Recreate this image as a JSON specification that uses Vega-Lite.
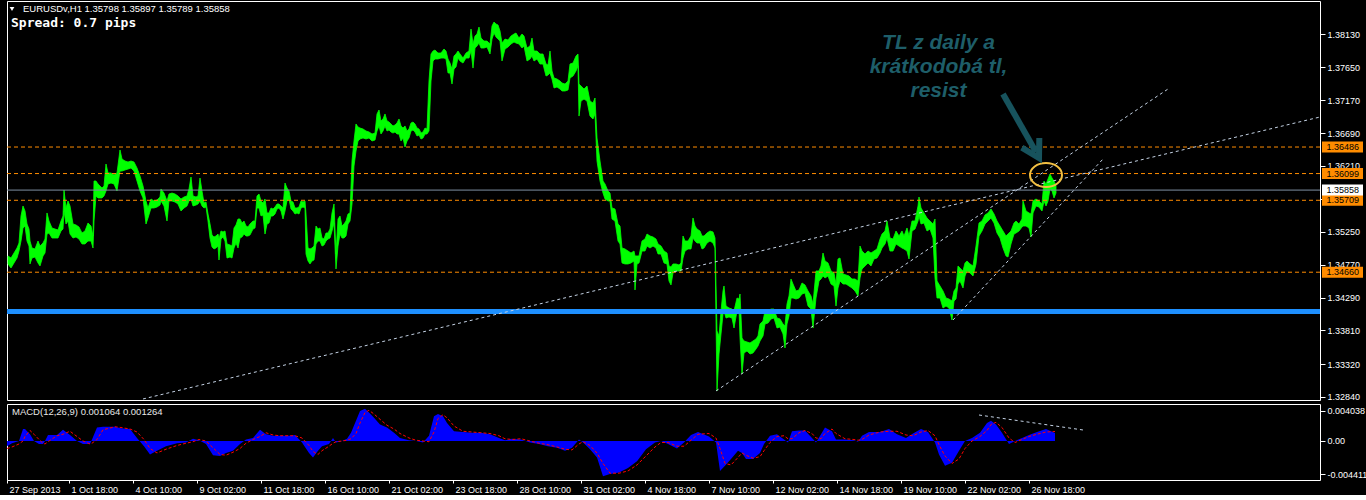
{
"$schema": "https://vega.github.io/schema/vega-lite/v6.json",
"padding": {"left": 4, "top": 0, "right": 0, "bottom": 0},
"autosize": {"type": "pad"},
"background": "#000000",
"spacing": 4,
"bounds": "flush",
"datasets": {
"price": [
{"b":1,"h":1.34897,"l":1.34780},{"b":4,"h":1.34867,"l":1.34722},{"b":7,"h":1.34940,"l":1.34795},{"b":10,"h":1.35013,"l":1.34867},{"b":12,"h":1.35086,"l":1.34969},{"b":14,"h":1.35480,"l":1.35115},{"b":16,"h":1.35626,"l":1.35305},{"b":18,"h":1.35553,"l":1.35334},{"b":20,"h":1.35363,"l":1.35115},{"b":22,"h":1.35290,"l":1.35042},{"b":23,"h":1.35115,"l":1.34780},{"b":25,"h":1.35013,"l":1.34867},{"b":28,"h":1.34999,"l":1.34882},{"b":31,"h":1.35115,"l":1.34795},{"b":33,"h":1.35042,"l":1.34751},{"b":36,"h":1.35086,"l":1.34897},{"b":38,"h":1.35144,"l":1.34940},{"b":40,"h":1.35524,"l":1.35217},{"b":42,"h":1.35407,"l":1.35232},{"b":45,"h":1.35305,"l":1.35159},{"b":48,"h":1.35290,"l":1.35159},{"b":51,"h":1.35276,"l":1.35159},{"b":54,"h":1.35407,"l":1.35261},{"b":56,"h":1.35480,"l":1.35290},{"b":57,"h":1.35859,"l":1.35553},{"b":59,"h":1.35597,"l":1.35363},{"b":61,"h":1.35699,"l":1.35407},{"b":63,"h":1.35626,"l":1.35217},{"b":66,"h":1.35363,"l":1.35159},{"b":69,"h":1.35349,"l":1.35174},{"b":72,"h":1.35319,"l":1.35144},{"b":75,"h":1.35232,"l":1.35072},{"b":78,"h":1.35261,"l":1.35072},{"b":81,"h":1.35378,"l":1.35115},{"b":84,"h":1.35334,"l":1.35115},{"b":86,"h":1.35188,"l":1.35013},{"b":87,"h":1.35990,"l":1.35407},{"b":89,"h":1.35990,"l":1.35772},{"b":91,"h":1.35947,"l":1.35743},{"b":93,"h":1.35918,"l":1.35743},{"b":95,"h":1.35888,"l":1.35743},{"b":97,"h":1.35918,"l":1.35772},{"b":99,"h":1.36238,"l":1.35845},{"b":101,"h":1.36107,"l":1.35947},{"b":104,"h":1.36107,"l":1.35961},{"b":107,"h":1.36078,"l":1.35947},{"b":110,"h":1.36107,"l":1.35845},{"b":113,"h":1.36443,"l":1.36136},{"b":115,"h":1.36311,"l":1.36136},{"b":118,"h":1.36282,"l":1.36151},{"b":121,"h":1.36267,"l":1.36165},{"b":124,"h":1.36282,"l":1.36180},{"b":127,"h":1.36267,"l":1.36136},{"b":130,"h":1.36180,"l":1.35990},{"b":133,"h":1.36063,"l":1.35845},{"b":136,"h":1.35918,"l":1.35743},{"b":139,"h":1.35699,"l":1.35363},{"b":141,"h":1.35597,"l":1.35451},{"b":144,"h":1.35728,"l":1.35597},{"b":147,"h":1.35699,"l":1.35597},{"b":150,"h":1.35713,"l":1.35611},{"b":153,"h":1.35757,"l":1.35640},{"b":154,"h":1.35874,"l":1.35699},{"b":157,"h":1.35815,"l":1.35626},{"b":160,"h":1.35699,"l":1.35407},{"b":162,"h":1.35801,"l":1.35699},{"b":165,"h":1.35815,"l":1.35699},{"b":168,"h":1.35801,"l":1.35684},{"b":171,"h":1.35772,"l":1.35655},{"b":174,"h":1.35728,"l":1.35553},
{"b":177,"h":1.35757,"l":1.35597},{"b":180,"h":1.35772,"l":1.35626},{"b":182,"h":1.35874,"l":1.35699},{"b":184,"h":1.36049,"l":1.35728},{"b":186,"h":1.35772,"l":1.35626},{"b":189,"h":1.35757,"l":1.35640},{"b":191,"h":1.35772,"l":1.35655},{"b":193,"h":1.36034,"l":1.35699},{"b":195,"h":1.35845,"l":1.35626},{"b":197,"h":1.35670,"l":1.35597},{"b":199,"h":1.35684,"l":1.35611},{"b":201,"h":1.35509,"l":1.35407},{"b":203,"h":1.35363,"l":1.35159},{"b":205,"h":1.35203,"l":1.35028},{"b":207,"h":1.35174,"l":1.34999},{"b":209,"h":1.35188,"l":1.35013},{"b":211,"h":1.35217,"l":1.35042},{"b":212,"h":1.35144,"l":1.34838},{"b":214,"h":1.35261,"l":1.35144},{"b":216,"h":1.35247,"l":1.35174},{"b":218,"h":1.35261,"l":1.35115},{"b":220,"h":1.35072,"l":1.34867},{"b":223,"h":1.35057,"l":1.34882},{"b":225,"h":1.35042,"l":1.34867},{"b":227,"h":1.35305,"l":1.35013},{"b":229,"h":1.35349,"l":1.35086},{"b":231,"h":1.35436,"l":1.35013},{"b":233,"h":1.35436,"l":1.35159},{"b":235,"h":1.35378,"l":1.35174},{"b":237,"h":1.35407,"l":1.35217},{"b":239,"h":1.35334,"l":1.35188},{"b":241,"h":1.35319,"l":1.35188},{"b":243,"h":1.35363,"l":1.35203},{"b":246,"h":1.35407,"l":1.35290},{"b":248,"h":1.35407,"l":1.35305},{"b":250,"h":1.35772,"l":1.35597},{"b":252,"h":1.35801,"l":1.35597},{"b":254,"h":1.35699,"l":1.35480},{"b":256,"h":1.35670,"l":1.35495},{"b":258,"h":1.35728,"l":1.35217},{"b":260,"h":1.35524,"l":1.35363},{"b":262,"h":1.35524,"l":1.35378},{"b":264,"h":1.35597,"l":1.35480},{"b":266,"h":1.35582,"l":1.35480},{"b":268,"h":1.35611,"l":1.35509},{"b":270,"h":1.35655,"l":1.35582},{"b":272,"h":1.35655,"l":1.35597},{"b":274,"h":1.35626,"l":1.35553},{"b":276,"h":1.35597,"l":1.35436},{"b":278,"h":1.35961,"l":1.35553},{"b":280,"h":1.35888,"l":1.35699},{"b":282,"h":1.35845,"l":1.35728},{"b":284,"h":1.35699,"l":1.35582},{"b":286,"h":1.35684,"l":1.35553},{"b":288,"h":1.35597,"l":1.35509},{"b":290,"h":1.35597,"l":1.35524},{"b":292,"h":1.35611,"l":1.35509},{"b":294,"h":1.35699,"l":1.35597},{"b":296,"h":1.35684,"l":1.35611},{"b":298,"h":1.35699,"l":1.35597},{"b":299,"h":1.35509,"l":1.34926},{"b":301,"h":1.35013,"l":1.34824},{"b":303,"h":1.34999,"l":1.34780},{"b":305,"h":1.35013,"l":1.34824},{"b":307,"h":1.35042,"l":1.34838},{"b":309,"h":1.35334,"l":1.35072},{"b":311,"h":1.35290,"l":1.35115},{"b":313,"h":1.35305,"l":1.35115},{"b":315,"h":1.35159,"l":1.35042},{"b":317,"h":1.35144,"l":1.35057},{"b":319,"h":1.35232,"l":1.35115},{"b":321,"h":1.35232,"l":1.35144},{"b":323,"h":1.35290,"l":1.35159},{"b":325,"h":1.35524,"l":1.35261},{"b":327,"h":1.35655,"l":1.35378},{"b":329,"h":1.34926,"l":1.34707},{"b":331,"h":1.35436,"l":1.35042},{"b":333,"h":1.35480,"l":1.35217},{"b":335,"h":1.35334,"l":1.35159},{"b":337,"h":1.35363,"l":1.35159},{"b":339,"h":1.35407,"l":1.35188},{"b":341,"h":1.35509,"l":1.35363},{"b":343,"h":1.35524,"l":1.35407},{"b":345,"h":1.36282,"l":1.35655},{"b":347,"h":1.36574,"l":1.36209},{"b":349,"h":1.36822,"l":1.36428},{"b":351,"h":1.36778,"l":1.36574},
{"b":353,"h":1.36763,"l":1.36603},{"b":356,"h":1.36749,"l":1.36618},{"b":359,"h":1.36720,"l":1.36603},{"b":362,"h":1.36705,"l":1.36618},{"b":365,"h":1.36676,"l":1.36574},{"b":368,"h":1.36690,"l":1.36588},{"b":370,"h":1.36968,"l":1.36720},{"b":372,"h":1.37026,"l":1.36793},{"b":374,"h":1.36866,"l":1.36676},{"b":376,"h":1.36895,"l":1.36720},{"b":378,"h":1.36968,"l":1.36793},{"b":380,"h":1.36866,"l":1.36720},{"b":382,"h":1.36851,"l":1.36734},{"b":384,"h":1.36822,"l":1.36705},{"b":386,"h":1.36793,"l":1.36690},{"b":388,"h":1.36807,"l":1.36705},{"b":390,"h":1.36836,"l":1.36676},{"b":392,"h":1.36895,"l":1.36676},{"b":394,"h":1.36793,"l":1.36574},{"b":396,"h":1.36763,"l":1.36618},{"b":398,"h":1.36793,"l":1.36486},{"b":400,"h":1.36720,"l":1.36574},{"b":402,"h":1.36749,"l":1.36618},{"b":404,"h":1.36836,"l":1.36720},{"b":406,"h":1.36851,"l":1.36734},{"b":408,"h":1.36822,"l":1.36705},{"b":410,"h":1.36763,"l":1.36647},{"b":412,"h":1.36749,"l":1.36661},{"b":414,"h":1.36690,"l":1.36603},{"b":416,"h":1.36705,"l":1.36618},{"b":418,"h":1.36763,"l":1.36676},{"b":420,"h":1.36749,"l":1.36676},{"b":422,"h":1.37449,"l":1.36720},{"b":424,"h":1.37843,"l":1.37449},{"b":426,"h":1.37886,"l":1.37741},{"b":428,"h":1.37901,"l":1.37770},{"b":431,"h":1.37857,"l":1.37770},{"b":434,"h":1.37857,"l":1.37784},{"b":437,"h":1.37916,"l":1.37784},{"b":439,"h":1.37886,"l":1.37770},{"b":441,"h":1.37770,"l":1.37566},{"b":443,"h":1.37711,"l":1.37566},{"b":445,"h":1.37624,"l":1.37405},{"b":447,"h":1.37814,"l":1.37624},{"b":449,"h":1.37843,"l":1.37653},{"b":451,"h":1.37886,"l":1.37784},{"b":453,"h":1.37843,"l":1.37741},{"b":456,"h":1.37784,"l":1.37711},{"b":459,"h":1.37857,"l":1.37784},{"b":462,"h":1.37886,"l":1.37784},{"b":464,"h":1.38207,"l":1.37886},{"b":466,"h":1.37989,"l":1.37638},{"b":468,"h":1.38105,"l":1.37930},{"b":470,"h":1.38134,"l":1.37959},{"b":472,"h":1.38236,"l":1.38003},{"b":474,"h":1.38076,"l":1.37930},{"b":477,"h":1.38032,"l":1.37930},{"b":480,"h":1.38032,"l":1.37945},{"b":483,"h":1.37989,"l":1.37843},{"b":485,"h":1.38251,"l":1.38061},{"b":487,"h":1.38309,"l":1.38149},{"b":489,"h":1.38280,"l":1.38091},{"b":491,"h":1.38266,"l":1.38061},{"b":493,"h":1.38178,"l":1.38032},{"b":495,"h":1.38003,"l":1.37741},{"b":498,"h":1.38061,"l":1.37916},{"b":501,"h":1.38047,"l":1.37945},{"b":504,"h":1.38105,"l":1.37989},{"b":507,"h":1.38134,"l":1.38018},{"b":509,"h":1.38149,"l":1.38003},{"b":512,"h":1.38076,"l":1.37989},{"b":515,"h":1.38134,"l":1.37930},{"b":517,"h":1.38105,"l":1.37959},{"b":520,"h":1.37930,"l":1.37741},{"b":523,"h":1.37959,"l":1.37770},
{"b":525,"h":1.38076,"l":1.37814},{"b":527,"h":1.37886,"l":1.37741},{"b":530,"h":1.37886,"l":1.37770},{"b":533,"h":1.37843,"l":1.37697},{"b":536,"h":1.37843,"l":1.37697},{"b":539,"h":1.37697,"l":1.37522},{"b":541,"h":1.37682,"l":1.37536},{"b":543,"h":1.37886,"l":1.37566},{"b":545,"h":1.37595,"l":1.37478},{"b":547,"h":1.37493,"l":1.37347},{"b":550,"h":1.37478,"l":1.37362},{"b":553,"h":1.37449,"l":1.37332},{"b":555,"h":1.37420,"l":1.37303},{"b":558,"h":1.37405,"l":1.37303},{"b":561,"h":1.37449,"l":1.37318},{"b":563,"h":1.37697,"l":1.37493},{"b":566,"h":1.37711,"l":1.37522},{"b":569,"h":1.37814,"l":1.37595},{"b":571,"h":1.37843,"l":1.37668},{"b":572,"h":1.37405,"l":1.36938},{"b":574,"h":1.37376,"l":1.37157},{"b":577,"h":1.37332,"l":1.37186},{"b":580,"h":1.37376,"l":1.37157},{"b":583,"h":1.37157,"l":1.36938},{"b":586,"h":1.37128,"l":1.36895},{"b":588,"h":1.37201,"l":1.36968},{"b":590,"h":1.36618,"l":1.36282},{"b":593,"h":1.36282,"l":1.35990},{"b":596,"h":1.35990,"l":1.35815},{"b":598,"h":1.35947,"l":1.35728},{"b":601,"h":1.35845,"l":1.35699},{"b":603,"h":1.35815,"l":1.35699},{"b":605,"h":1.35597,"l":1.35436},{"b":608,"h":1.35582,"l":1.35407},{"b":611,"h":1.35363,"l":1.35115},{"b":613,"h":1.35334,"l":1.35072},{"b":615,"h":1.35013,"l":1.34795},{"b":618,"h":1.34999,"l":1.34780},{"b":621,"h":1.34969,"l":1.34780},{"b":624,"h":1.34940,"l":1.34795},{"b":627,"h":1.34969,"l":1.34824},{"b":628,"h":1.34897,"l":1.34401},{"b":630,"h":1.34897,"l":1.34780},{"b":632,"h":1.34897,"l":1.34795},{"b":635,"h":1.35115,"l":1.34969},{"b":638,"h":1.35144,"l":1.34969},{"b":640,"h":1.35217,"l":1.35042},{"b":643,"h":1.35188,"l":1.35013},{"b":646,"h":1.35174,"l":1.35042},{"b":649,"h":1.35144,"l":1.35013},{"b":651,"h":1.35072,"l":1.34926},{"b":654,"h":1.35042,"l":1.34926},{"b":657,"h":1.34969,"l":1.34795},{"b":660,"h":1.34940,"l":1.34780},{"b":662,"h":1.34751,"l":1.34532},{"b":664,"h":1.34736,"l":1.34474},{"b":666,"h":1.34780,"l":1.34649},{"b":669,"h":1.34780,"l":1.34678},{"b":672,"h":1.34766,"l":1.34678},{"b":674,"h":1.34795,"l":1.34678},{"b":676,"h":1.35188,"l":1.34867},{"b":678,"h":1.35115,"l":1.34969},{"b":681,"h":1.35115,"l":1.34999},{"b":684,"h":1.35188,"l":1.34999},{"b":686,"h":1.35451,"l":1.35159},{"b":688,"h":1.35334,"l":1.35115},{"b":690,"h":1.35290,"l":1.35086},{"b":693,"h":1.35261,"l":1.35086},{"b":695,"h":1.35188,"l":1.34999},
{"b":697,"h":1.35188,"l":1.35013},{"b":700,"h":1.35232,"l":1.35086},{"b":703,"h":1.35261,"l":1.35115},{"b":706,"h":1.35247,"l":1.35086},{"b":708,"h":1.35159,"l":1.35013},{"b":710,"h":1.33803,"l":1.32928},{"b":712,"h":1.33730,"l":1.33467},{"b":714,"h":1.34094,"l":1.33759},{"b":716,"h":1.34386,"l":1.34051},{"b":717,"h":1.34459,"l":1.34094},{"b":719,"h":1.34167,"l":1.33992},{"b":722,"h":1.34138,"l":1.34007},{"b":725,"h":1.34123,"l":1.33992},{"b":727,"h":1.34094,"l":1.33846},{"b":730,"h":1.34284,"l":1.34094},{"b":732,"h":1.34269,"l":1.34123},{"b":733,"h":1.34342,"l":1.33701},{"b":735,"h":1.33701,"l":1.33176},{"b":737,"h":1.33657,"l":1.33482},{"b":740,"h":1.33642,"l":1.33511},{"b":743,"h":1.33628,"l":1.33467},{"b":746,"h":1.33657,"l":1.33482},{"b":749,"h":1.33686,"l":1.33540},{"b":751,"h":1.33730,"l":1.33584},{"b":753,"h":1.33905,"l":1.33657},{"b":756,"h":1.33948,"l":1.33730},{"b":758,"h":1.34094,"l":1.33905},{"b":761,"h":1.34094,"l":1.33919},{"b":764,"h":1.34123,"l":1.33978},{"b":767,"h":1.34123,"l":1.33992},{"b":770,"h":1.33992,"l":1.33846},{"b":773,"h":1.33978,"l":1.33861},{"b":776,"h":1.33905,"l":1.33759},{"b":778,"h":1.33876,"l":1.33555},{"b":780,"h":1.34196,"l":1.33905},{"b":782,"h":1.34313,"l":1.34022},{"b":784,"h":1.34561,"l":1.34284},{"b":786,"h":1.34488,"l":1.34284},{"b":789,"h":1.34386,"l":1.34269},{"b":792,"h":1.34401,"l":1.34284},{"b":795,"h":1.34503,"l":1.34342},{"b":798,"h":1.34474,"l":1.34357},{"b":801,"h":1.34386,"l":1.34167},{"b":804,"h":1.34313,"l":1.34123},{"b":806,"h":1.34196,"l":1.33846},{"b":809,"h":1.34678,"l":1.34284},{"b":812,"h":1.34678,"l":1.34532},{"b":814,"h":1.34751,"l":1.34561},{"b":816,"h":1.34940,"l":1.34605},{"b":818,"h":1.34824,"l":1.34576},{"b":821,"h":1.34795,"l":1.34605},{"b":824,"h":1.34678,"l":1.34488},{"b":827,"h":1.34649,"l":1.34459},{"b":829,"h":1.34488,"l":1.34167},{"b":831,"h":1.34853,"l":1.34430},{"b":833,"h":1.34867,"l":1.34532},{"b":836,"h":1.34634,"l":1.34488},{"b":839,"h":1.34620,"l":1.34488},{"b":842,"h":1.34605,"l":1.34459},{"b":845,"h":1.34561,"l":1.34430},{"b":848,"h":1.34561,"l":1.34386},{"b":851,"h":1.34532,"l":1.34313},{"b":853,"h":1.35042,"l":1.34576},{"b":855,"h":1.34969,"l":1.34707},{"b":858,"h":1.34926,"l":1.34751},{"b":861,"h":1.34969,"l":1.34795},{"b":864,"h":1.34940,"l":1.34751},{"b":867,"h":1.34969,"l":1.34853},{"b":870,"h":1.34999,"l":1.34867},{"b":873,"h":1.35144,"l":1.34940},
{"b":875,"h":1.35217,"l":1.35013},{"b":878,"h":1.35261,"l":1.35072},{"b":880,"h":1.35407,"l":1.35159},{"b":883,"h":1.35159,"l":1.34969},{"b":886,"h":1.35144,"l":1.34969},{"b":889,"h":1.35261,"l":1.35072},{"b":892,"h":1.35188,"l":1.35042},{"b":895,"h":1.35261,"l":1.35013},{"b":897,"h":1.35188,"l":1.34999},{"b":900,"h":1.35305,"l":1.34969},{"b":902,"h":1.35188,"l":1.34853},{"b":905,"h":1.35407,"l":1.35261},{"b":908,"h":1.35407,"l":1.35290},{"b":911,"h":1.35626,"l":1.35407},{"b":912,"h":1.35757,"l":1.35480},{"b":914,"h":1.35597,"l":1.35363},{"b":917,"h":1.35524,"l":1.35378},{"b":920,"h":1.35451,"l":1.35261},{"b":923,"h":1.35407,"l":1.35290},{"b":926,"h":1.35363,"l":1.35159},{"b":928,"h":1.35436,"l":1.34576},{"b":930,"h":1.34532,"l":1.34284},{"b":933,"h":1.34459,"l":1.34284},{"b":936,"h":1.34386,"l":1.34138},{"b":939,"h":1.34284,"l":1.34167},{"b":942,"h":1.34269,"l":1.34138},{"b":945,"h":1.34240,"l":1.33963},{"b":947,"h":1.34386,"l":1.34240},{"b":949,"h":1.34430,"l":1.34269},{"b":951,"h":1.34751,"l":1.34488},{"b":953,"h":1.34722,"l":1.34532},{"b":956,"h":1.34678,"l":1.34430},{"b":958,"h":1.34795,"l":1.34605},{"b":960,"h":1.34824,"l":1.34678},{"b":963,"h":1.34780,"l":1.34649},{"b":966,"h":1.34751,"l":1.34605},{"b":969,"h":1.35042,"l":1.34780},{"b":972,"h":1.35378,"l":1.35188},{"b":975,"h":1.35407,"l":1.35261},{"b":978,"h":1.35495,"l":1.35363},{"b":981,"h":1.35524,"l":1.35407},{"b":984,"h":1.35582,"l":1.35451},{"b":987,"h":1.35509,"l":1.35378},{"b":990,"h":1.35407,"l":1.35232},{"b":993,"h":1.35334,"l":1.35159},{"b":996,"h":1.35261,"l":1.35013},{"b":999,"h":1.35188,"l":1.34897},{"b":1001,"h":1.35217,"l":1.34882},{"b":1004,"h":1.35261,"l":1.35072},{"b":1007,"h":1.35378,"l":1.35217},{"b":1009,"h":1.35407,"l":1.35232},{"b":1012,"h":1.35363,"l":1.35261},{"b":1015,"h":1.35436,"l":1.35319},{"b":1016,"h":1.35699,"l":1.35334},{"b":1019,"h":1.35553,"l":1.35334},{"b":1022,"h":1.35524,"l":1.35305},{"b":1024,"h":1.35509,"l":1.35174},{"b":1026,"h":1.35699,"l":1.35524},{"b":1029,"h":1.35728,"l":1.35626},{"b":1032,"h":1.35699,"l":1.35611},{"b":1035,"h":1.35655,"l":1.35553},{"b":1037,"h":1.35990,"l":1.35699},{"b":1039,"h":1.35947,"l":1.35626},{"b":1041,"h":1.36020,"l":1.35699},{"b":1043,"h":1.36093,"l":1.35874},{"b":1045,"h":1.36034,"l":1.35845},{"b":1047,"h":1.35990,"l":1.35743},{"b":1049,"h":1.35918,"l":1.35815}
],
"levels": [
{"level":1.36486,"kind":"line"},{"level":1.36099,"kind":"line"},{"level":1.35709,"kind":"line"},{"level":1.3466,"kind":"line"},{"level":1.35858,"kind":"now"}
],
"zones": [{"level":1.34087}],
"trend": [
{"id":"a","b":136,"p":1.32811},{"id":"a","b":1313,"p":1.36924},
{"id":"b","b":709,"p":1.32928},{"id":"b","b":1161,"p":1.37332},
{"id":"c","b":946,"p":1.33963},{"id":"c","b":1096,"p":1.36311}
],
"arrow": [{"b":996,"p":1.37259},{"b":1029,"p":1.36413}],
"macd": [
{"b":0,"m":-0.0007,"s":-0.0010},{"b":5,"m":-0.0003,"s":-0.0008},{"b":12,"m":0.0000,"s":-0.0004},{"b":16,"m":0.0016,"s":0.0000},{"b":18,"m":0.0016,"s":0.0006},{"b":23,"m":0.0009,"s":0.0014},{"b":27,"m":0.0000,"s":0.0009},{"b":32,"m":-0.0004,"s":0.0002},{"b":36,"m":-0.0004,"s":-0.0003},{"b":38,"m":0.0000,"s":-0.0004},{"b":41,"m":0.0008,"s":-0.0001},{"b":50,"m":0.0008,"s":0.0007},{"b":56,"m":0.0015,"s":0.0009},{"b":63,"m":0.0008,"s":0.0013},{"b":70,"m":0.0000,"s":0.0006},{"b":76,"m":-0.0004,"s":0.0000},{"b":83,"m":-0.0004,"s":-0.0004},{"b":85,"m":0.0002,"s":-0.0003},{"b":90,"m":0.0018,"s":0.0002},{"b":96,"m":0.0019,"s":0.0015},{"b":108,"m":0.0019,"s":0.0019},{"b":114,"m":0.0017,"s":0.0018},{"b":123,"m":0.0016,"s":0.0016},{"b":130,"m":0.0004,"s":0.0012},{"b":137,"m":-0.0007,"s":0.0002},{"b":143,"m":-0.0018,"s":-0.0010},{"b":150,"m":-0.0013,"s":-0.0016},{"b":159,"m":-0.0007,"s":-0.0011},{"b":170,"m":-0.0003,"s":-0.0006},{"b":179,"m":-0.0002,"s":-0.0003},{"b":186,"m":0.0003,"s":-0.0001},{"b":192,"m":0.0001,"s":0.0002},{"b":199,"m":-0.0004,"s":0.0000},{"b":206,"m":-0.0019,"s":-0.0009},{"b":213,"m":-0.0020,"s":-0.0018},{"b":219,"m":-0.0016,"s":-0.0019},{"b":226,"m":-0.0013,"s":-0.0015},{"b":233,"m":-0.0004,"s":-0.0010},{"b":239,"m":0.0002,"s":-0.0003},{"b":246,"m":0.0004,"s":0.0002},{"b":253,"m":0.0015,"s":0.0006},{"b":259,"m":0.0009,"s":0.0011},{"b":266,"m":0.0007,"s":0.0008},{"b":273,"m":0.0007,"s":0.0007},{"b":282,"m":0.0007,"s":0.0007},{"b":288,"m":0.0008,"s":0.0007},{"b":295,"m":-0.0002,"s":0.0004},{"b":302,"m":-0.0016,"s":-0.0006},{"b":306,"m":-0.0022,"s":-0.0014},{"b":311,"m":-0.0013,"s":-0.0018},{"b":315,"m":-0.0007,"s":-0.0013},{"b":322,"m":-0.0004,"s":-0.0007},{"b":326,"m":0.0004,"s":-0.0003},{"b":329,"m":-0.0002,"s":-0.0001},{"b":335,"m":0.0000,"s":0.0000},{"b":340,"m":0.0003,"s":0.0001},{"b":344,"m":0.0011,"s":0.0003},{"b":349,"m":0.0027,"s":0.0010},{"b":353,"m":0.0040,"s":0.0024},{"b":358,"m":0.0043,"s":0.0038},{"b":362,"m":0.0038,"s":0.0041},{"b":367,"m":0.0031,"s":0.0036},{"b":373,"m":0.0022,"s":0.0029},{"b":380,"m":0.0018,"s":0.0021},{"b":387,"m":0.0011,"s":0.0016},{"b":393,"m":0.0004,"s":0.0010},{"b":402,"m":0.0001,"s":0.0004},{"b":409,"m":0.0000,"s":0.0001},{"b":416,"m":-0.0002,"s":0.0000},{"b":422,"m":0.0007,"s":-0.0001},{"b":427,"m":0.0033,"s":0.0012},{"b":431,"m":0.0036,"s":0.0030},{"b":436,"m":0.0033,"s":0.0035},{"b":440,"m":0.0024,"s":0.0031},{"b":447,"m":0.0013,"s":0.0020},{"b":456,"m":0.0012,"s":0.0013},{"b":465,"m":0.0011,"s":0.0012},{"b":474,"m":0.0011,"s":0.0011},{"b":483,"m":0.0009,"s":0.0010},{"b":492,"m":0.0004,"s":0.0007},{"b":498,"m":0.0001,"s":0.0003},{"b":505,"m":0.0003,"s":0.0002},{"b":514,"m":0.0002,"s":0.0003},{"b":523,"m":-0.0002,"s":0.0000},{"b":532,"m":-0.0004,"s":-0.0003},{"b":541,"m":-0.0007,"s":-0.0005},{"b":550,"m":-0.0009,"s":-0.0008},{"b":558,"m":-0.0013,"s":-0.0011},{"b":565,"m":-0.0009,"s":-0.0012},{"b":572,"m":0.0002,"s":-0.0004},{"b":576,"m":-0.0002,"s":-0.0001},{"b":583,"m":-0.0011,"s":-0.0006},{"b":590,"m":-0.0022,"s":-0.0016},{"b":596,"m":-0.0047,"s":-0.0030},{"b":603,"m":-0.0044,"s":-0.0043},{"b":612,"m":-0.0042,"s":-0.0043},{"b":621,"m":-0.0036,"s":-0.0040},{"b":630,"m":-0.0027,"s":-0.0032},{"b":639,"m":-0.0011,"s":-0.0020},{"b":648,"m":-0.0002,"s":-0.0008},{"b":654,"m":0.0000,"s":-0.0002},{"b":661,"m":-0.0004,"s":-0.0002},{"b":670,"m":-0.0010,"s":-0.0007},{"b":677,"m":-0.0002,"s":-0.0007},{"b":684,"m":0.0008,"s":0.0001},{"b":691,"m":0.0012,"s":0.0009},{"b":702,"m":0.0006,"s":0.0010},{"b":709,"m":-0.0002,"s":0.0004},{"b":713,"m":-0.0040,"s":-0.0010},{"b":718,"m":-0.0033,"s":-0.0030},{"b":724,"m":-0.0024,"s":-0.0032},{"b":731,"m":-0.0013,"s":-0.0022},{"b":735,"m":-0.0016,"s":-0.0016},{"b":739,"m":-0.0024,"s":-0.0019},{"b":746,"m":-0.0024,"s":-0.0023},{"b":753,"m":-0.0016,"s":-0.0021},{"b":757,"m":-0.0004,"s":-0.0013},{"b":763,"m":0.0007,"s":-0.0002},{"b":770,"m":0.0009,"s":0.0006},{"b":777,"m":0.0002,"s":0.0007},{"b":781,"m":-0.0002,"s":0.0003},{"b":785,"m":0.0013,"s":0.0003},{"b":792,"m":0.0014,"s":0.0011},{"b":798,"m":0.0014,"s":0.0014},{"b":805,"m":0.0004,"s":0.0010},{"b":809,"m":-0.0002,"s":0.0004},{"b":814,"m":0.0009,"s":0.0003},{"b":818,"m":0.0018,"s":0.0010},{"b":825,"m":0.0013,"s":0.0016},{"b":829,"m":0.0002,"s":0.0010},{"b":838,"m":0.0002,"s":0.0003},{"b":847,"m":0.0001,"s":0.0002},{"b":851,"m":-0.0001,"s":0.0001},{"b":855,"m":0.0007,"s":0.0002},{"b":862,"m":0.0012,"s":0.0008},{"b":873,"m":0.0012,"s":0.0012},{"b":882,"m":0.0016,"s":0.0013},{"b":890,"m":0.0009,"s":0.0013},{"b":899,"m":0.0004,"s":0.0008},{"b":906,"m":0.0010,"s":0.0007},{"b":914,"m":0.0016,"s":0.0012},{"b":921,"m":0.0012,"s":0.0014},{"b":928,"m":-0.0002,"s":0.0007},{"b":932,"m":-0.0018,"s":-0.0005},{"b":938,"m":-0.0033,"s":-0.0020},{"b":945,"m":-0.0029,"s":-0.0030},{"b":952,"m":-0.0013,"s":-0.0024},{"b":958,"m":0.0000,"s":-0.0010},{"b":965,"m":0.0004,"s":0.0000},{"b":973,"m":0.0011,"s":0.0006},{"b":980,"m":0.0024,"s":0.0014},{"b":984,"m":0.0027,"s":0.0022},{"b":989,"m":0.0022,"s":0.0025},{"b":995,"m":0.0011,"s":0.0018},{"b":1002,"m":-0.0004,"s":0.0004},{"b":1008,"m":0.0000,"s":-0.0002},{"b":1015,"m":0.0004,"s":0.0002},{"b":1022,"m":0.0008,"s":0.0006},{"b":1030,"m":0.0012,"s":0.0009},{"b":1039,"m":0.0016,"s":0.0012},{"b":1048,"m":0.001064,"s":0.001264}
],
"macdtl": [{"b":972,"v":0.00347},{"b":1076,"v":0.00147}]
},
"vconcat": [
{
"width": 1313, "height": 399,
"layer": [
{"data":{"name":"price"},"mark":{"type":"area","color":"#00ff00","stroke":"#00ff00","strokeWidth":0.8,"opacity":1},
 "encoding":{
  "x":{"field":"b","type":"quantitative","scale":{"domain":[0,1313],"nice":false,"zero":false},"axis":null},
  "y":{"field":"h","type":"quantitative","scale":{"domain":[1.32796,1.38616],"nice":false,"zero":false},
   "axis":{"orient":"right","title":null,"values":[1.3284,1.3332,1.3381,1.3429,1.3477,1.3525,1.3573,1.3621,1.3669,1.3717,1.3765,1.3813],"tickCount":30,"format":".5f","tickSize":5,"labelPadding":2,"labelColor":"#ffffff","tickColor":"#ffffff","domain":false,"grid":false,"labelFont":"Liberation Sans","labelFontSize":9,"labelOverlap":false,"labelSeparation":0,"labelFlush":false}},
  "y2":{"field":"l"}}},
{"data":{"name":"levels"},"transform":[{"filter":"datum.kind == 'line'"}],"mark":{"type":"rule","color":"#ff8c00","strokeWidth":1,"strokeDash":[4,3]},
 "encoding":{"y":{"field":"level","type":"quantitative","scale":{"domain":[1.32796,1.38616],"nice":false,"zero":false}}}},
{"data":{"name":"levels"},"transform":[{"filter":"datum.kind == 'now'"}],"mark":{"type":"rule","color":"#7f8fa3","strokeWidth":1},
 "encoding":{"y":{"field":"level","type":"quantitative","scale":{"domain":[1.32796,1.38616],"nice":false,"zero":false}}}},
{"data":{"name":"zones"},"mark":{"type":"rule","color":"#1e90ff","strokeWidth":5},
 "encoding":{"y":{"field":"level","type":"quantitative","scale":{"domain":[1.32796,1.38616],"nice":false,"zero":false}}}},
{"data":{"name":"trend"},"mark":{"type":"line","color":"#c4d2e4","strokeWidth":1,"strokeDash":[3,3]},
 "encoding":{
  "x":{"field":"b","type":"quantitative","scale":{"domain":[0,1313],"nice":false,"zero":false}},
  "y":{"field":"p","type":"quantitative","scale":{"domain":[1.32796,1.38616],"nice":false,"zero":false}},
  "detail":{"field":"id"}}},
{"data":{"values":[{}]},"mark":{"type":"point","shape":"M-1,0 A1,0.75 0 1,1 1,0 A1,0.75 0 1,1 -1,0 Z","size":1024,"filled":false,"stroke":"#f2c043","strokeWidth":2,"opacity":1},
 "encoding":{
  "x":{"datum":1039,"type":"quantitative","scale":{"domain":[0,1313],"nice":false,"zero":false}},
  "y":{"datum":1.36078,"type":"quantitative","scale":{"domain":[1.32796,1.38616],"nice":false,"zero":false}}}},
{"data":{"name":"arrow"},"mark":{"type":"line","color":"#17535d","strokeWidth":6},
 "encoding":{
  "x":{"field":"b","type":"quantitative","scale":{"domain":[0,1313],"nice":false,"zero":false}},
  "y":{"field":"p","type":"quantitative","scale":{"domain":[1.32796,1.38616],"nice":false,"zero":false}}}},
{"data":{"values":[{}]},"mark":{"type":"point","shape":"M-0.5,-0.87 L0,0 L0.5,-0.87","size":1600,"filled":false,"stroke":"#17535d","strokeWidth":6,"opacity":1,"angle":331},
 "encoding":{
  "x":{"datum":1032,"type":"quantitative","scale":{"domain":[0,1313],"nice":false,"zero":false}},
  "y":{"datum":1.36326,"type":"quantitative","scale":{"domain":[1.32796,1.38616],"nice":false,"zero":false}}}},
{"data":{"values":[{}]},"mark":{"type":"text","text":["TL z daily a","krátkodobá tl,","resist"],"lineHeight":24,"align":"center","baseline":"alphabetic","font":"Liberation Sans","fontSize":21,"fontWeight":"bold","fontStyle":"italic","color":"#1e5e69"},
 "encoding":{
  "x":{"datum":931.5,"type":"quantitative","scale":{"domain":[0,1313],"nice":false,"zero":false}},
  "y":{"datum":1.37916,"type":"quantitative","scale":{"domain":[1.32796,1.38616],"nice":false,"zero":false}}}},
{"data":{"values":[{}]},"mark":{"type":"point","shape":"triangle-down","size":22,"filled":true,"color":"#ffffff","opacity":1},
 "encoding":{
  "x":{"datum":5,"type":"quantitative","scale":{"domain":[0,1313],"nice":false,"zero":false}},
  "y":{"datum":1.38499,"type":"quantitative","scale":{"domain":[1.32796,1.38616],"nice":false,"zero":false}}}},
{"data":{"values":[{}]},"mark":{"type":"text","text":"EURUSDv,H1  1.35798 1.35897 1.35789 1.35858","align":"left","baseline":"middle","font":"Liberation Sans","fontSize":9.5,"color":"#ffffff"},
 "encoding":{
  "x":{"datum":16,"type":"quantitative","scale":{"domain":[0,1313],"nice":false,"zero":false}},
  "y":{"datum":1.38499,"type":"quantitative","scale":{"domain":[1.32796,1.38616],"nice":false,"zero":false}}}},
{"data":{"values":[{}]},"mark":{"type":"text","text":"Spread: 0.7 pips","align":"left","baseline":"middle","font":"DejaVu Sans Mono","fontSize":13,"fontWeight":"bold","color":"#ffffff"},
 "encoding":{
  "x":{"datum":4,"type":"quantitative","scale":{"domain":[0,1313],"nice":false,"zero":false}},
  "y":{"datum":1.38295,"type":"quantitative","scale":{"domain":[1.32796,1.38616],"nice":false,"zero":false}}}},
{"data":{"name":"levels"},"mark":{"type":"point","shape":"M-1,-0.27 L1,-0.27 L1,0.27 L-1,0.27 Z","size":1681,"filled":true,"opacity":1,"strokeWidth":0},
 "encoding":{
  "x":{"datum":1335.5,"type":"quantitative","scale":{"domain":[0,1313],"nice":false,"zero":false}},
  "y":{"field":"level","type":"quantitative","scale":{"domain":[1.32796,1.38616],"nice":false,"zero":false}},
  "color":{"field":"kind","type":"nominal","scale":{"domain":["line","now"],"range":["#ff8c00","#ffffff"]},"legend":null}}},
{"data":{"name":"levels"},"mark":{"type":"text","align":"left","baseline":"middle","font":"Liberation Sans","fontSize":9,"color":"#000000"},
 "encoding":{
  "x":{"datum":1319.5,"type":"quantitative","scale":{"domain":[0,1313],"nice":false,"zero":false}},
  "y":{"field":"level","type":"quantitative","scale":{"domain":[1.32796,1.38616],"nice":false,"zero":false}},
  "text":{"field":"level","type":"quantitative","format":".5f"}}}
]
},
{
"width": 1313, "height": 76,
"layer": [
{"data":{"name":"macd"},"mark":{"type":"area","color":"#0000ff","opacity":1},
 "encoding":{
  "x":{"field":"b","type":"quantitative","scale":{"domain":[0,1313],"nice":false,"zero":false},
   "axis":{"orient":"bottom","title":null,"values":[0,62,126,190,254,318,382,446,510,574,638,702,766,830,894,958,1022],"tickCount":40,
    "labelExpr":"datum.value == 0 ? '27 Sep 2013' : ['1 Oct 18:00','4 Oct 10:00','9 Oct 02:00','11 Oct 18:00','16 Oct 10:00','21 Oct 02:00','23 Oct 18:00','28 Oct 10:00','31 Oct 02:00','4 Nov 18:00','7 Nov 10:00','12 Nov 02:00','14 Nov 18:00','19 Nov 10:00','22 Nov 02:00','26 Nov 18:00'][round((datum.value - 62) / 64)]",
    "labelAlign":"left","labelBaseline":"top","labelOffset":2,"labelPadding":2,"tickSize":3,"labelColor":"#ffffff","tickColor":"#ffffff","domain":false,"grid":false,"labelFont":"Liberation Sans","labelFontSize":9,"labelOverlap":false,"labelFlush":false}},
  "y":{"field":"m","type":"quantitative","scale":{"domain":[-0.00521,0.00494],"nice":false,"zero":false},
   "axis":{"orient":"right","title":null,"values":[-0.004411,0,0.004038],"tickCount":10,"labelExpr":"datum.value == 0 ? '0.00' : replace(format(datum.value, '.6f'), '\u2212', '-')","tickSize":5,"labelPadding":2,"labelColor":"#ffffff","tickColor":"#ffffff","domain":false,"grid":false,"labelFont":"Liberation Sans","labelFontSize":9,"labelOverlap":false}},
  "y2":{"datum":0}}},
{"data":{"name":"macd"},"mark":{"type":"line","color":"#ff0000","strokeWidth":1,"strokeDash":[3,2]},
 "encoding":{
  "x":{"field":"b","type":"quantitative","scale":{"domain":[0,1313],"nice":false,"zero":false}},
  "y":{"field":"s","type":"quantitative","scale":{"domain":[-0.00521,0.00494],"nice":false,"zero":false}}}},
{"data":{"name":"macdtl"},"mark":{"type":"line","color":"#c4d2e4","strokeWidth":1,"strokeDash":[3,3]},
 "encoding":{
  "x":{"field":"b","type":"quantitative","scale":{"domain":[0,1313],"nice":false,"zero":false}},
  "y":{"field":"v","type":"quantitative","scale":{"domain":[-0.00521,0.00494],"nice":false,"zero":false}}}},
{"data":{"values":[{}]},"mark":{"type":"text","text":"MACD(12,26,9) 0.001064 0.001264","align":"left","baseline":"middle","font":"Liberation Sans","fontSize":9.5,"color":"#e8e8e8"},
 "encoding":{
  "x":{"datum":5,"type":"quantitative","scale":{"domain":[0,1313],"nice":false,"zero":false}},
  "y":{"datum":0.00387,"type":"quantitative","scale":{"domain":[-0.00521,0.00494],"nice":false,"zero":false}}}}
]
}
],
"resolve": {"scale": {"y": "independent"}},
"config": {
 "background": "#000000",
 "view": {"stroke": "#ffffff", "strokeWidth": 1},
 "axis": {"title": null, "labelOverlap": false, "labelSeparation": 0}
}
}
